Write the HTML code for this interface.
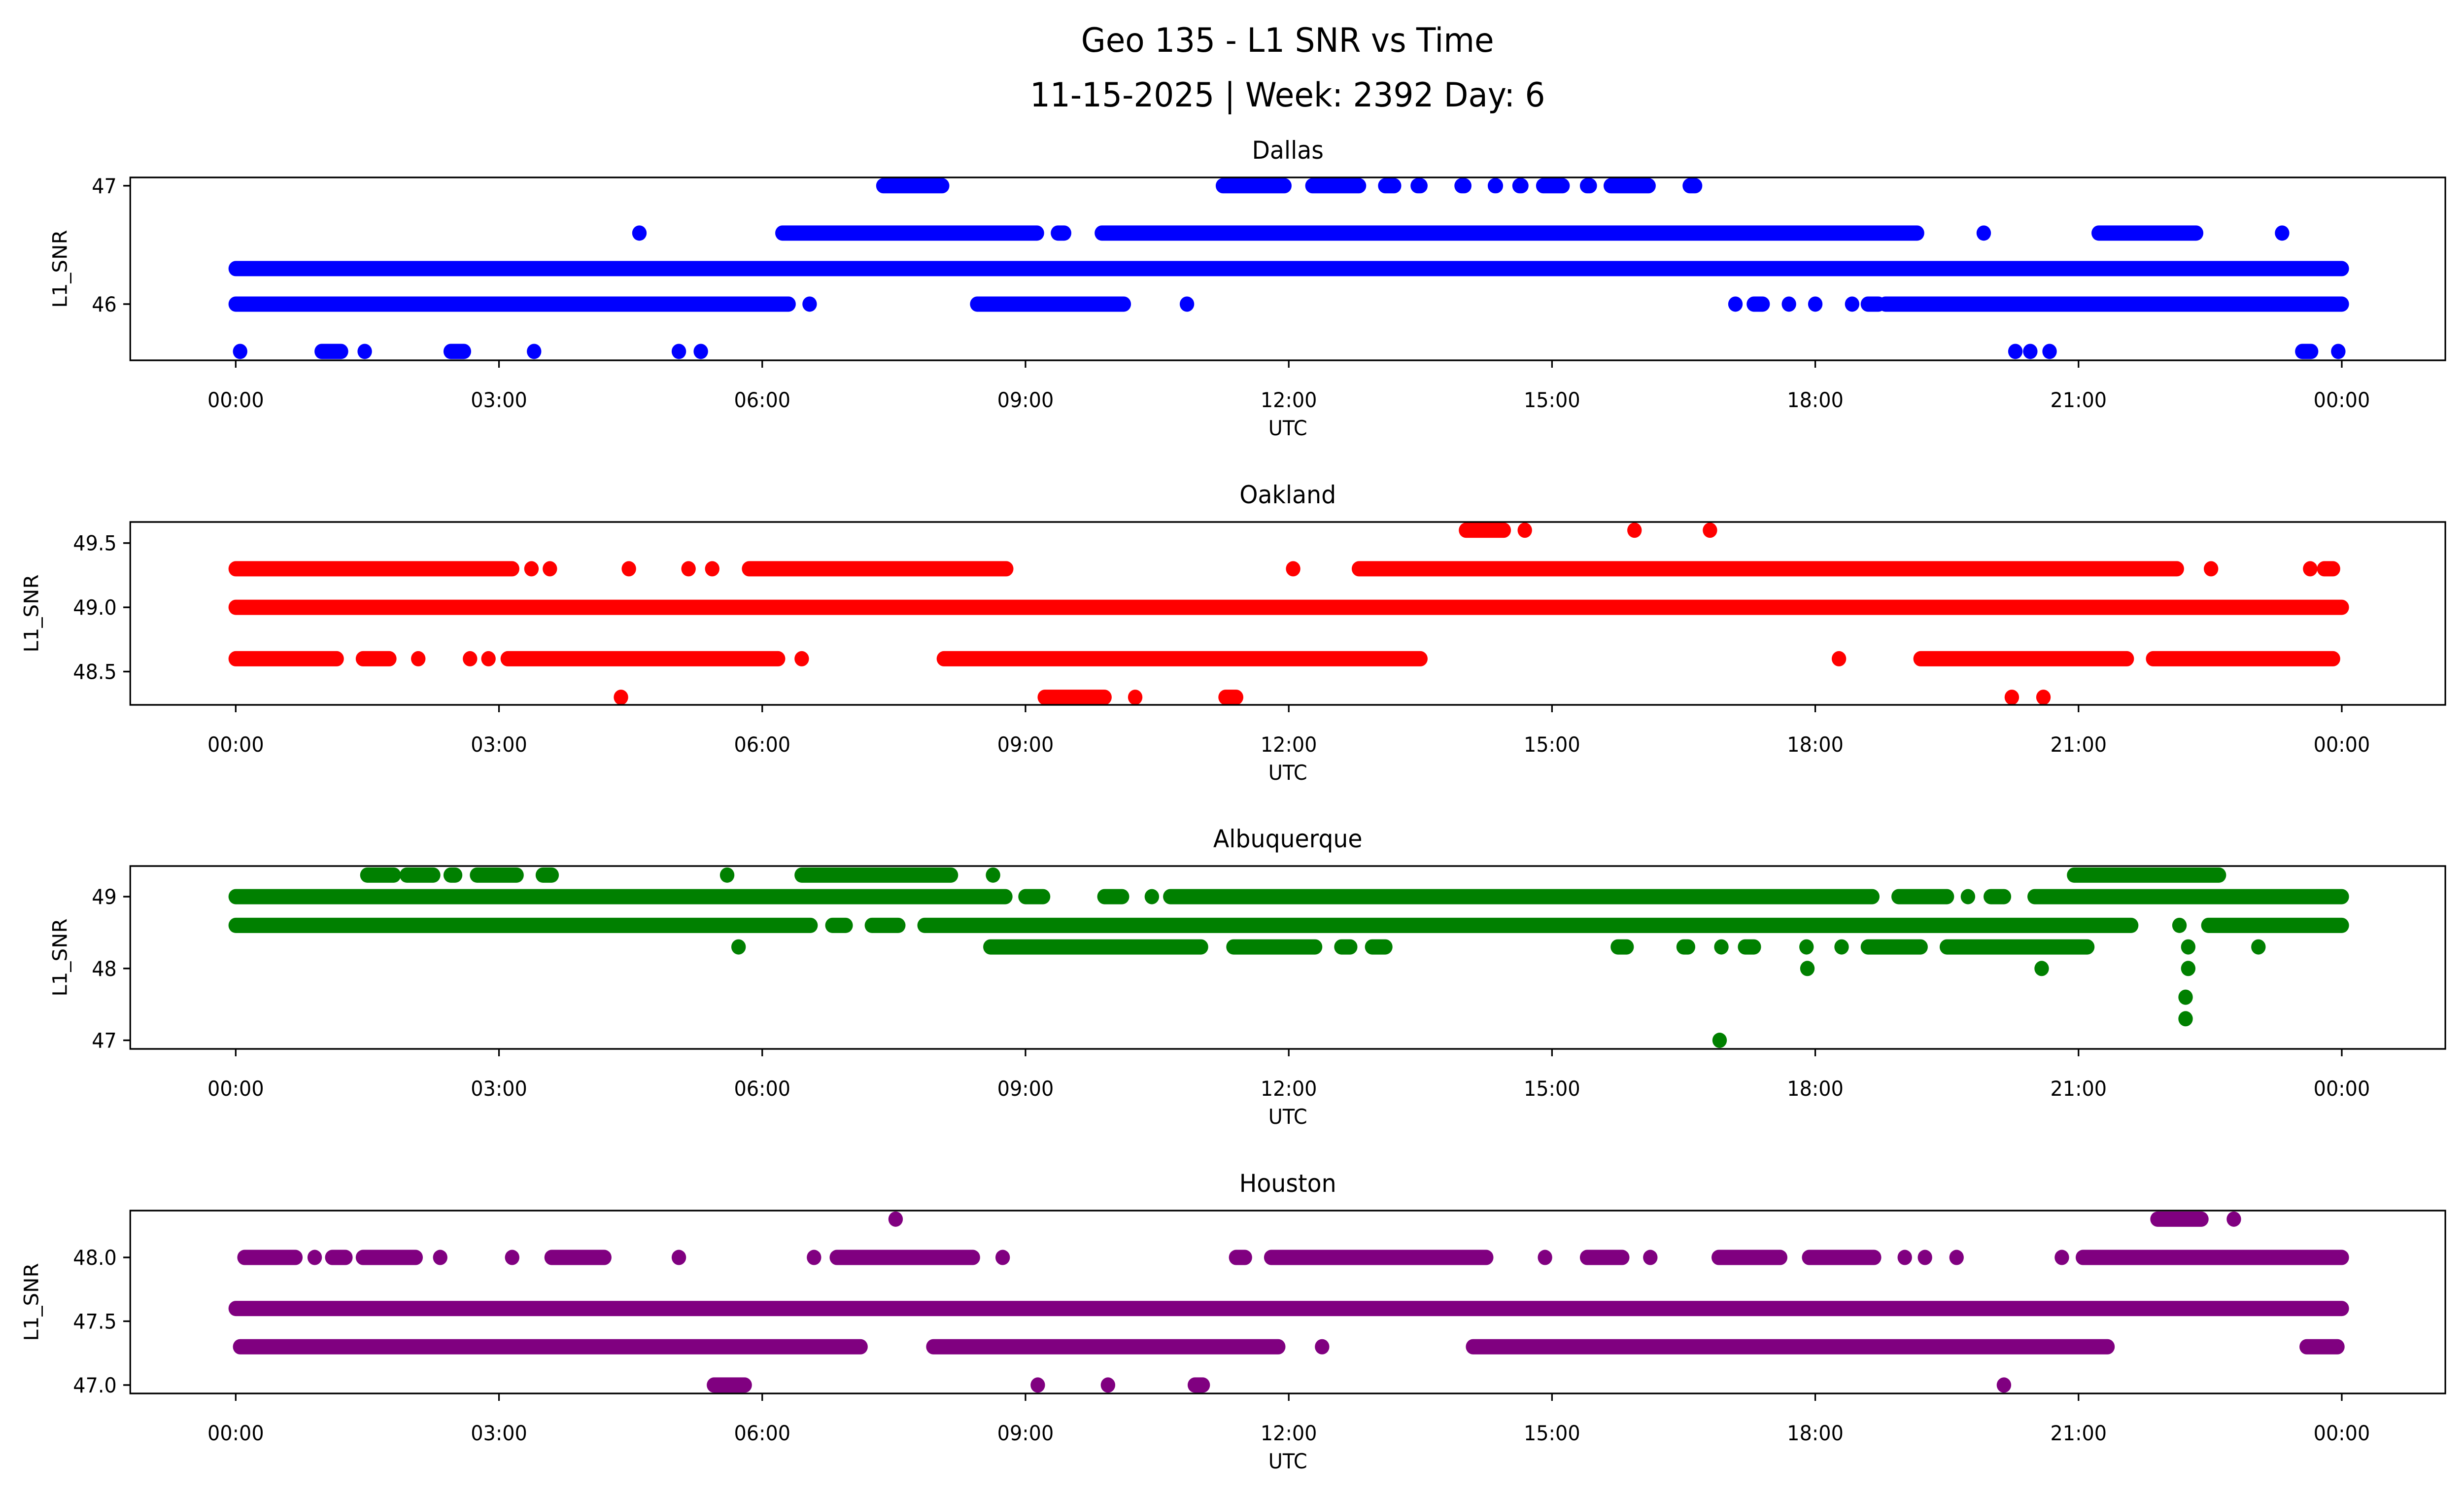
<!DOCTYPE html>
<html><head><meta charset="utf-8">
<style>
html,body{margin:0;padding:0;background:#fff;overflow:hidden;width:100%;height:100%;}
svg{display:block;position:fixed;left:0;top:0;width:100vw;height:100vh;}
text{font-family:"DejaVu Sans","Liberation Sans",sans-serif;fill:#000;}
</style></head>
<body>
<svg id="fig" viewBox="0 0 5278 3033" preserveAspectRatio="none" xmlns="http://www.w3.org/2000/svg">
<rect width="5278" height="3033" fill="#fff"/>
<text x="2758" y="105" font-size="68" text-anchor="middle">Geo 135 - L1 SNR vs Time</text>
<text x="2758" y="216" font-size="68" text-anchor="middle">11-15-2025 | Week: 2392 Day: 6</text>
<g id="plots"></g>
</svg>
<script>
// Categories / tick labels
const xTickHours = [0,3,6,9,12,15,18,21,24];
const xTickLabels = ["00:00","03:00","06:00","09:00","12:00","15:00","18:00","21:00","00:00"];
const stations = ["Dallas","Oakland","Albuquerque","Houston"];
const colors = ["#0000ff","#ff0000","#008000","#800080"];
const yTicks0 = [46,47], yTickLabels0 = ["46","47"];
const yTicks1 = [48.5,49.0,49.5], yTickLabels1 = ["48.5","49.0","49.5"];
const yTicks2 = [47,48,49], yTickLabels2 = ["47","48","49"];
const yTicks3 = [47.0,47.5,48.0], yTickLabels3 = ["47.0","47.5","48.0"];
const yDomains = [[45.525,47.07],[48.241,49.664],[46.88,49.426],[46.934,48.367]];
// Series: [snrValue, startHour, endHour] runs of dense samples
const dallas = [
 [47,7.38,8.05],[47,11.25,11.95],[47,12.27,12.8],[47,13.1,13.2],[47,13.47,13.5],[47,13.97,14.0],[47,14.35,14.36],[47,14.65,14.63],[47,14.9,15.12],[47,15.4,15.43],[47,15.67,16.1],[47,16.57,16.63],
 [46.6,4.6,4.6],[46.6,6.23,9.13],[46.6,9.37,9.44],[46.6,9.87,19.16],[46.6,19.92,19.92],[46.6,21.23,22.34],[46.6,23.32,23.32],
 [46.3,0,24],
 [46,0,6.3],[46,6.54,6.54],[46,8.45,10.12],[46,10.84,10.84],[46,17.09,17.09],[46,17.3,17.4],[46,17.7,17.7],[46,18.0,18.0],[46,18.42,18.42],[46,18.6,18.72],[46,18.8,24],
 [45.6,0.05,0.05],[45.6,0.98,1.2],[45.6,1.47,1.47],[45.6,2.45,2.6],[45.6,3.4,3.4],[45.6,5.05,5.05],[45.6,5.3,5.3],[45.6,20.28,20.28],[45.6,20.45,20.45],[45.6,20.67,20.67],[45.6,23.55,23.65],[45.6,23.96,23.96]
];
const oakland = [
 [49.6,14.02,14.45],[49.6,14.69,14.69],[49.6,15.94,15.94],[49.6,16.8,16.8],
 [49.3,0,3.15],[49.3,3.37,3.37],[49.3,3.58,3.58],[49.3,4.48,4.48],[49.3,5.16,5.16],[49.3,5.43,5.43],[49.3,5.85,8.78],[49.3,12.05,12.05],[49.3,12.8,22.12],[49.3,22.51,22.51],[49.3,23.64,23.64],[49.3,23.8,23.9],
 [49.0,0,24],
 [48.6,0,1.15],[48.6,1.45,1.75],[48.6,2.08,2.08],[48.6,2.67,2.67],[48.6,2.88,2.88],[48.6,3.1,6.18],[48.6,6.45,6.45],[48.6,8.07,13.5],[48.6,18.27,18.27],[48.6,19.2,21.55],[48.6,21.85,23.9],
 [48.3,4.39,4.39],[48.3,9.22,9.9],[48.3,10.25,10.25],[48.3,11.28,11.4],[48.3,20.24,20.24],[48.3,20.6,20.6]
];
const albuquerque = [
 [49.3,1.5,1.8],[49.3,1.95,2.25],[49.3,2.45,2.5],[49.3,2.75,3.2],[49.3,3.5,3.6],[49.3,5.6,5.6],[49.3,6.45,8.15],[49.3,8.63,8.63],[49.3,20.95,22.6],
 [49.0,0,8.77],[49.0,9.0,9.2],[49.0,9.9,10.1],[49.0,10.44,10.44],[49.0,10.65,18.65],[49.0,18.95,19.5],[49.0,19.74,19.74],[49.0,20.0,20.15],[49.0,20.5,24],
 [48.6,0,6.55],[48.6,6.8,6.95],[48.6,7.25,7.55],[48.6,7.85,21.6],[48.6,22.15,22.15],[48.6,22.48,24],
 [48.3,5.73,5.73],[48.3,8.6,11.0],[48.3,11.37,12.3],[48.3,12.6,12.7],[48.3,12.95,13.1],[48.3,15.75,15.85],[48.3,16.5,16.55],[48.3,16.93,16.93],[48.3,17.2,17.3],[48.3,17.9,17.9],[48.3,18.3,18.3],[48.3,18.6,19.2],[48.3,19.5,21.1],[48.3,22.25,22.25],[48.3,23.05,23.05],
 [48.0,17.91,17.91],[48.0,20.58,20.58],[48.0,22.25,22.25],
 [47.6,22.22,22.22],[47.3,22.22,22.22],[47.0,16.91,16.91]
];
const houston = [
 [48.3,7.52,7.52],[48.3,21.9,22.4],[48.3,22.77,22.77],
 [48.0,0.1,0.68],[48.0,0.9,0.9],[48.0,1.1,1.25],[48.0,1.45,2.05],[48.0,2.33,2.33],[48.0,3.15,3.15],[48.0,3.6,4.2],[48.0,5.05,5.05],[48.0,6.59,6.59],[48.0,6.85,8.4],[48.0,8.74,8.74],[48.0,11.4,11.5],[48.0,11.8,14.25],[48.0,14.92,14.92],[48.0,15.4,15.8],[48.0,16.12,16.12],[48.0,16.9,17.6],[48.0,17.93,18.67],[48.0,19.02,19.02],[48.0,19.25,19.25],[48.0,19.61,19.61],[48.0,20.81,20.81],[48.0,21.05,24],
 [47.6,0,24],
 [47.3,0.05,7.12],[47.3,7.95,11.88],[47.3,12.38,12.38],[47.3,14.1,21.33],[47.3,23.6,23.95],
 [47.0,5.45,5.8],[47.0,9.14,9.14],[47.0,9.94,9.94],[47.0,10.93,11.02],[47.0,20.15,20.15]
];
const seriesList = [dallas,oakland,albuquerque,houston];
const yTickSets = [yTicks0,yTicks1,yTicks2,yTicks3];
const yTickLabelSets = [yTickLabels0,yTickLabels1,yTickLabels2,yTickLabels3];

const NS="http://www.w3.org/2000/svg";
const root=document.getElementById('plots');
const L=279,R=5238,H=371,tops=[360,1059,1757,2456];
const xDom=[-1.202,25.18];
function xs(h){return L+(h-xDom[0])/(xDom[1]-xDom[0])*(R-L);}
function mk(tag,attrs,parent){const e=document.createElementNS(NS,tag);for(const k in attrs)e.setAttribute(k,attrs[k]);parent.appendChild(e);return e;}
stations.forEach((st,i)=>{
  const T=tops[i],B=T+H,d=yDomains[i];
  const ys=v=>B-(v-d[0])/(d[1]-d[0])*H;
  const g=mk('g',{},root);
  
  
  const clipId='clip'+i;
  const cp=mk('clipPath',{id:clipId},g);mk('rect',{x:L,y:T,width:R-L,height:H},cp);
  const pts=mk('g',{'clip-path':'url(#'+clipId+')'},g);
  
  
  seriesList[i].forEach(s=>{
    const y=ys(s[0]);
    const ln=mk('line',{x1:xs(s[1]),y1:y,x2:xs(s[2]),y2:y,stroke:colors[i],'stroke-width':31,'stroke-linecap':'round'},pts);
    
    
  });
  const fr=mk('rect',{x:L,y:T,width:R-L,height:H,fill:'none',stroke:'#000','stroke-width':3.4},g);
  
  
  xTickHours.forEach((h,k)=>{
    const x=xs(h);
    mk('line',{x1:x,y1:B,x2:x,y2:B+15,stroke:'#000','stroke-width':3.4},g);
    const t=mk('text',{x:x,y:B+95,'font-size':42,'text-anchor':'middle'},g);
    t.textContent=xTickLabels[k];
    
    
  });
  yTickSets[i].forEach((v,k)=>{
    const y=ys(v);
    mk('line',{x1:L-15,y1:y,x2:L,y2:y,stroke:'#000','stroke-width':3.4},g);
    const t=mk('text',{x:L-29,y:y+15,'font-size':42,'text-anchor':'end'},g);
    t.textContent=yTickLabelSets[i][k];
    
    
  });
  const xl=mk('text',{x:(L+R)/2,y:B+152,'font-size':42,'text-anchor':'middle'},g);
  xl.textContent='UTC';
  
  
  const yx=(i%2===0)?128:67;
  const yl=mk('text',{x:yx+15,y:T+H/2,'font-size':42,'text-anchor':'middle',transform:'rotate(-90 '+(yx+15)+' '+(T+H/2)+')'},g);
  yl.textContent='L1_SNR';
  
  
  const tt=mk('text',{x:(L+R)/2,y:T-38,'font-size':50,'text-anchor':'middle'},g);
  tt.textContent=st;
  
  
});
</script>
</body></html>
